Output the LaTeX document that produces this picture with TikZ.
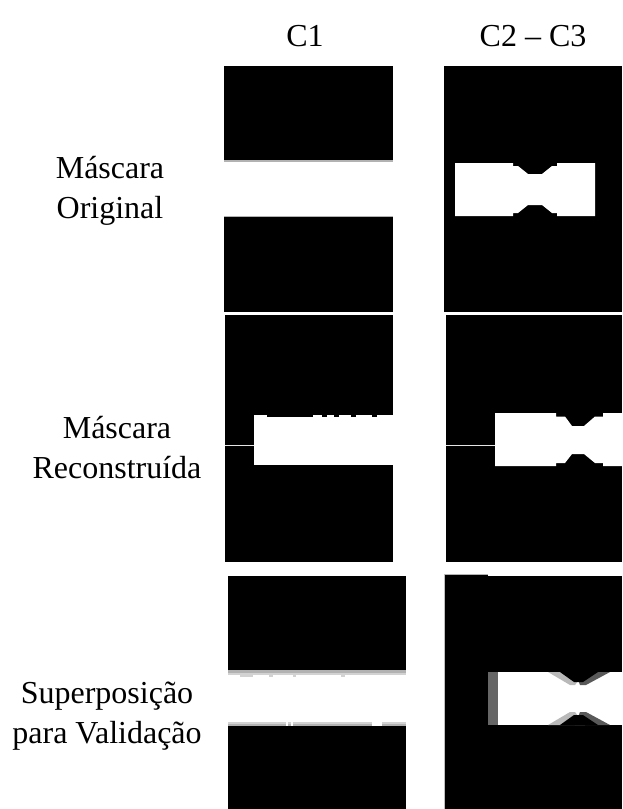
\documentclass[tikz,border=0pt]{standalone}
\usepackage{fontspec}
\setmainfont{Liberation Serif}

\begin{document}
\begin{tikzpicture}[x=1pt, y=-1pt]
    \tikzset{
        masque/.style={fill=black},
        blanc/.style={fill=white},
        bordclair/.style={fill=gray!35},
        bordfonce/.style={fill=gray!60},
        fil/.style={gray!20, line width=1.5pt},
        titre/.style={font=\fontsize{32}{40}\selectfont, align=center, inner sep=0pt}
    }
    \useasboundingbox (0,0) rectangle (622,809);

    % Titres des colonnes
    \node[titre, anchor=base] (colA) at (305,46) {C1};
    \node[titre, anchor=base] (colB) at (533,46) {C2 – C3};

    % Titres des lignes
    \node[titre] (ligOrig) at (110,191) {Máscara\\Original};
    \node[titre] (ligRec) at (117,448) {Máscara\\Reconstruída};
    \node[titre] (ligSup) at (107,716) {Superposição\\para Validação};

    % -- LIGNE 1 : MASQUE ORIGINAL --
    % C1 : bande blanche pleine largeur
    \fill[masque] (224,66) rectangle (393,312);
    \fill[blanc] (224,161) rectangle (393,216);
    \fill[bordfonce] (224,160) rectangle (393,161.5);
    \fill[bordfonce] (224,215.5) rectangle (393,217);

    % C2-C3 : eprouvette avec entaille
    \fill[masque] (444,66) rectangle (622,312);
    \fill[blanc] (455,163) -- (513,163) -- (513,166) -- (518,166) -- (528,174)
        -- (542,174) -- (552,166) -- (557,166) -- (557,163) -- (595,163)
        -- (595,216) -- (557,216) -- (557,213) -- (552,213) -- (542,205)
        -- (528,205) -- (518,213) -- (513,213) -- (513,216) -- (455,216) -- cycle;

    % -- LIGNE 2 : MASQUE RECONSTRUIT --
    % C1 : bande decalee + petites bosses en haut
    \fill[masque] (225,315) rectangle (393,562);
    \fill[blanc] (254,417) rectangle (393,465);
    \foreach \a/\b in {254/267, 313/322, 327/334, 339/351, 356/372, 377/393}
        \fill[blanc] (\a,415) rectangle (\b,417.5);
    \draw[fil] (225,445.5) -- (254,445.5);

    % C2-C3
    \fill[masque] (446,315) rectangle (622,562);
    \fill[blanc] (495,413) -- (556,413) -- (556,416.5) -- (565,416.5) -- (572,426)
        -- (584,426) -- (595,416.5) -- (603,416.5) -- (603,413) -- (622,413)
        -- (622,466) -- (603,466) -- (603,463) -- (595,463) -- (584,454)
        -- (572,454) -- (565,463) -- (556,463) -- (556,466) -- (495,466) -- cycle;
    \draw[fil] (446,445.5) -- (495,445.5);

    % -- LIGNE 3 : SUPERPOSITION --
    % C1 : bande blanche avec bords gris
    \fill[masque] (228,576) rectangle (406,809);
    \fill[blanc] (228,670) rectangle (406,726);
    \fill[bordfonce] (228,670) rectangle (406,673);
    \fill[bordclair] (228,673) rectangle (406,675);
    \fill[bordclair] (228,721.5) rectangle (406,723.5);
    \fill[bordfonce] (228,723.5) rectangle (406,726);
    % taches le long des bords
    \foreach \x/\w in {240/13, 269/4, 293/3, 341/4}
        \fill[bordclair] (\x,675) rectangle (\x+\w,676.5);
    \foreach \x/\w in {286/2, 291/2, 372/10}
        \fill[blanc] (\x,721.5) rectangle (\x+\w,726);

    % C2-C3 : bande blanche, bord gauche gris fonce, entailles grises
    \fill[masque] (444,576) rectangle (622,809);
    \fill[masque] (444,574) rectangle (488,576);
    \draw[gray!60, line width=0.8pt] (444,574) -- (488,574);
    \draw[gray!50, line width=0.6pt] (444.3,574) -- (444.3,809);
    \fill[blanc] (498,672) rectangle (622,725);
    \fill[black!60] (488,672) rectangle (498,725);
    % entaille haut
    \fill[gray!55] (548,672) -- (585,672) -- (575,685) -- (570,685) -- cycle;
    \fill[black!65] (575,672) -- (610,672) -- (586,685) -- (580,685) -- cycle;
    \fill[masque] (560,672) -- (598,672) -- (583,682) -- (574,682) -- cycle;
    % entaille bas
    \fill[gray!55] (548,725) -- (585,725) -- (575,712) -- (570,712) -- cycle;
    \fill[black!65] (575,725) -- (610,725) -- (586,712) -- (580,712) -- cycle;
    \fill[masque] (560,725) -- (598,725) -- (583,715) -- (574,715) -- cycle;

\end{tikzpicture}
\end{document}
